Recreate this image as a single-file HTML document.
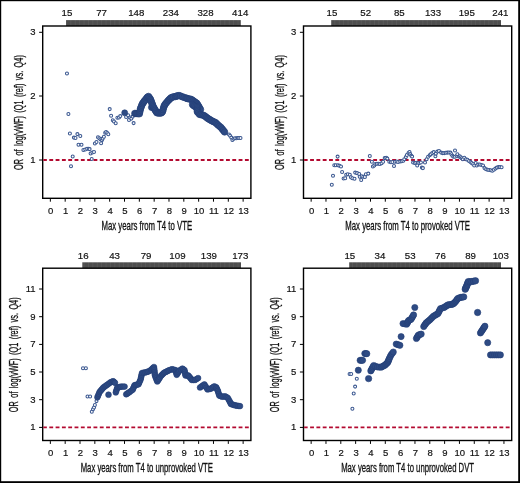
<!DOCTYPE html>
<html><head><meta charset="utf-8"><title>OR of log(vWF) plots</title>
<style>
html,body{margin:0;padding:0;background:#fff;}
body{width:520px;height:483px;overflow:hidden;}
svg{display:block;filter:blur(0.3px);}
.n{font-family:"Liberation Sans",sans-serif;font-size:9.5px;fill:#111;stroke:#111;stroke-width:0.18px;}
.b{font-size:9.7px;}
.t{font-family:"Liberation Sans",sans-serif;font-size:11.9px;fill:#111;stroke:#111;stroke-width:0.3px;}
</style></head><body>
<svg width="520" height="483" viewBox="0 0 520 483">
<defs><pattern id="bar" patternUnits="userSpaceOnUse" width="4.4" height="6"><rect width="4.4" height="6" fill="#4e4e4e"/><rect x="0" width="0.7" height="6" fill="#5c5c5c"/></pattern></defs>
<rect width="520" height="483" fill="#fff"/>
<rect x="66" y="20.1" width="174.8" height="5.9" fill="url(#bar)"/>
<text x="67" y="16.3" class="n b" text-anchor="middle">15</text>
<text x="101.64" y="16.3" class="n b" text-anchor="middle">77</text>
<text x="136.28" y="16.3" class="n b" text-anchor="middle">148</text>
<text x="170.92" y="16.3" class="n b" text-anchor="middle">234</text>
<text x="205.56" y="16.3" class="n b" text-anchor="middle">328</text>
<text x="240.2" y="16.3" class="n b" text-anchor="middle">414</text>
<rect x="42.7" y="26" width="208.2" height="172.3" fill="none" stroke="#000" stroke-width="1.4"/>
<line x1="50.35" y1="198.9" x2="50.35" y2="201.7" stroke="#000" stroke-width="1"/>
<text x="50.75" y="213.7" class="n" text-anchor="middle">0</text>
<line x1="65.18" y1="198.9" x2="65.18" y2="201.7" stroke="#000" stroke-width="1"/>
<text x="65.58" y="213.7" class="n" text-anchor="middle">1</text>
<line x1="80.01" y1="198.9" x2="80.01" y2="201.7" stroke="#000" stroke-width="1"/>
<text x="80.41" y="213.7" class="n" text-anchor="middle">2</text>
<line x1="94.84" y1="198.9" x2="94.84" y2="201.7" stroke="#000" stroke-width="1"/>
<text x="95.24" y="213.7" class="n" text-anchor="middle">3</text>
<line x1="109.67" y1="198.9" x2="109.67" y2="201.7" stroke="#000" stroke-width="1"/>
<text x="110.07" y="213.7" class="n" text-anchor="middle">4</text>
<line x1="124.5" y1="198.9" x2="124.5" y2="201.7" stroke="#000" stroke-width="1"/>
<text x="124.9" y="213.7" class="n" text-anchor="middle">5</text>
<line x1="139.33" y1="198.9" x2="139.33" y2="201.7" stroke="#000" stroke-width="1"/>
<text x="139.73" y="213.7" class="n" text-anchor="middle">6</text>
<line x1="154.16" y1="198.9" x2="154.16" y2="201.7" stroke="#000" stroke-width="1"/>
<text x="154.56" y="213.7" class="n" text-anchor="middle">7</text>
<line x1="168.99" y1="198.9" x2="168.99" y2="201.7" stroke="#000" stroke-width="1"/>
<text x="169.39" y="213.7" class="n" text-anchor="middle">8</text>
<line x1="183.82" y1="198.9" x2="183.82" y2="201.7" stroke="#000" stroke-width="1"/>
<text x="184.22" y="213.7" class="n" text-anchor="middle">9</text>
<line x1="198.65" y1="198.9" x2="198.65" y2="201.7" stroke="#000" stroke-width="1"/>
<text x="199.05" y="213.7" class="n" text-anchor="middle">10</text>
<line x1="213.48" y1="198.9" x2="213.48" y2="201.7" stroke="#000" stroke-width="1"/>
<text x="213.88" y="213.7" class="n" text-anchor="middle">11</text>
<line x1="228.31" y1="198.9" x2="228.31" y2="201.7" stroke="#000" stroke-width="1"/>
<text x="228.71" y="213.7" class="n" text-anchor="middle">12</text>
<line x1="243.14" y1="198.9" x2="243.14" y2="201.7" stroke="#000" stroke-width="1"/>
<text x="243.54" y="213.7" class="n" text-anchor="middle">13</text>
<line x1="39.1" y1="160" x2="42.7" y2="160" stroke="#000" stroke-width="1"/>
<text x="35.6" y="162.8" class="n" text-anchor="end">1</text>
<line x1="39.1" y1="96" x2="42.7" y2="96" stroke="#000" stroke-width="1"/>
<text x="35.6" y="98.8" class="n" text-anchor="end">2</text>
<line x1="39.1" y1="32.3" x2="42.7" y2="32.3" stroke="#000" stroke-width="1"/>
<text x="35.6" y="35.1" class="n" text-anchor="end">3</text>
<line x1="43.3" y1="160" x2="250.3" y2="160" stroke="#b30a30" stroke-width="1.8" stroke-dasharray="3.85 2.46" stroke-dashoffset="0.3"/>
<text x="146.8" y="229.6" class="t" text-anchor="middle" textLength="90.6" lengthAdjust="spacingAndGlyphs">Max years from T4 to VTE</text>
<text transform="translate(23.4,112.55) rotate(-90)" x="0" y="0" class="t" word-spacing="2.2" text-anchor="middle" textLength="114.8" lengthAdjust="spacingAndGlyphs">OR of log(vWF) (Q1 (ref) vs. Q4)</text>
<rect x="331.2" y="20.1" width="169.8" height="5.9" fill="url(#bar)"/>
<text x="332" y="16.3" class="n b" text-anchor="middle">15</text>
<text x="365.68" y="16.3" class="n b" text-anchor="middle">52</text>
<text x="399.36" y="16.3" class="n b" text-anchor="middle">85</text>
<text x="433.04" y="16.3" class="n b" text-anchor="middle">133</text>
<text x="466.72" y="16.3" class="n b" text-anchor="middle">195</text>
<text x="500.4" y="16.3" class="n b" text-anchor="middle">241</text>
<rect x="303.5" y="26" width="208.2" height="172.3" fill="none" stroke="#000" stroke-width="1.4"/>
<line x1="311.15" y1="198.9" x2="311.15" y2="201.7" stroke="#000" stroke-width="1"/>
<text x="311.55" y="213.7" class="n" text-anchor="middle">0</text>
<line x1="325.98" y1="198.9" x2="325.98" y2="201.7" stroke="#000" stroke-width="1"/>
<text x="326.38" y="213.7" class="n" text-anchor="middle">1</text>
<line x1="340.81" y1="198.9" x2="340.81" y2="201.7" stroke="#000" stroke-width="1"/>
<text x="341.21" y="213.7" class="n" text-anchor="middle">2</text>
<line x1="355.64" y1="198.9" x2="355.64" y2="201.7" stroke="#000" stroke-width="1"/>
<text x="356.04" y="213.7" class="n" text-anchor="middle">3</text>
<line x1="370.47" y1="198.9" x2="370.47" y2="201.7" stroke="#000" stroke-width="1"/>
<text x="370.87" y="213.7" class="n" text-anchor="middle">4</text>
<line x1="385.3" y1="198.9" x2="385.3" y2="201.7" stroke="#000" stroke-width="1"/>
<text x="385.7" y="213.7" class="n" text-anchor="middle">5</text>
<line x1="400.13" y1="198.9" x2="400.13" y2="201.7" stroke="#000" stroke-width="1"/>
<text x="400.53" y="213.7" class="n" text-anchor="middle">6</text>
<line x1="414.96" y1="198.9" x2="414.96" y2="201.7" stroke="#000" stroke-width="1"/>
<text x="415.36" y="213.7" class="n" text-anchor="middle">7</text>
<line x1="429.79" y1="198.9" x2="429.79" y2="201.7" stroke="#000" stroke-width="1"/>
<text x="430.19" y="213.7" class="n" text-anchor="middle">8</text>
<line x1="444.62" y1="198.9" x2="444.62" y2="201.7" stroke="#000" stroke-width="1"/>
<text x="445.02" y="213.7" class="n" text-anchor="middle">9</text>
<line x1="459.45" y1="198.9" x2="459.45" y2="201.7" stroke="#000" stroke-width="1"/>
<text x="459.85" y="213.7" class="n" text-anchor="middle">10</text>
<line x1="474.28" y1="198.9" x2="474.28" y2="201.7" stroke="#000" stroke-width="1"/>
<text x="474.68" y="213.7" class="n" text-anchor="middle">11</text>
<line x1="489.11" y1="198.9" x2="489.11" y2="201.7" stroke="#000" stroke-width="1"/>
<text x="489.51" y="213.7" class="n" text-anchor="middle">12</text>
<line x1="503.94" y1="198.9" x2="503.94" y2="201.7" stroke="#000" stroke-width="1"/>
<text x="504.34" y="213.7" class="n" text-anchor="middle">13</text>
<line x1="299.9" y1="160" x2="303.5" y2="160" stroke="#000" stroke-width="1"/>
<text x="296.4" y="162.8" class="n" text-anchor="end">1</text>
<line x1="299.9" y1="96" x2="303.5" y2="96" stroke="#000" stroke-width="1"/>
<text x="296.4" y="98.8" class="n" text-anchor="end">2</text>
<line x1="299.9" y1="32.3" x2="303.5" y2="32.3" stroke="#000" stroke-width="1"/>
<text x="296.4" y="35.1" class="n" text-anchor="end">3</text>
<line x1="304.1" y1="160" x2="511.1" y2="160" stroke="#b30a30" stroke-width="1.8" stroke-dasharray="3.85 2.46" stroke-dashoffset="0.3"/>
<text x="407.6" y="229.6" class="t" text-anchor="middle" textLength="124.6" lengthAdjust="spacingAndGlyphs">Max years from T4 to provoked VTE</text>
<text transform="translate(284.2,112.55) rotate(-90)" x="0" y="0" class="t" word-spacing="2.2" text-anchor="middle" textLength="114.8" lengthAdjust="spacingAndGlyphs">OR of log(vWF) (Q1 (ref) vs. Q4)</text>
<rect x="82.3" y="262.3" width="158.7" height="5.9" fill="url(#bar)"/>
<text x="83.2" y="258.5" class="n b" text-anchor="middle">16</text>
<text x="114.62" y="258.5" class="n b" text-anchor="middle">43</text>
<text x="146.04" y="258.5" class="n b" text-anchor="middle">79</text>
<text x="177.46" y="258.5" class="n b" text-anchor="middle">109</text>
<text x="208.88" y="258.5" class="n b" text-anchor="middle">139</text>
<text x="240.3" y="258.5" class="n b" text-anchor="middle">173</text>
<rect x="42.7" y="268.2" width="208.2" height="172.3" fill="none" stroke="#000" stroke-width="1.4"/>
<line x1="50.35" y1="441.1" x2="50.35" y2="443.9" stroke="#000" stroke-width="1"/>
<text x="50.75" y="455.9" class="n" text-anchor="middle">0</text>
<line x1="65.18" y1="441.1" x2="65.18" y2="443.9" stroke="#000" stroke-width="1"/>
<text x="65.58" y="455.9" class="n" text-anchor="middle">1</text>
<line x1="80.01" y1="441.1" x2="80.01" y2="443.9" stroke="#000" stroke-width="1"/>
<text x="80.41" y="455.9" class="n" text-anchor="middle">2</text>
<line x1="94.84" y1="441.1" x2="94.84" y2="443.9" stroke="#000" stroke-width="1"/>
<text x="95.24" y="455.9" class="n" text-anchor="middle">3</text>
<line x1="109.67" y1="441.1" x2="109.67" y2="443.9" stroke="#000" stroke-width="1"/>
<text x="110.07" y="455.9" class="n" text-anchor="middle">4</text>
<line x1="124.5" y1="441.1" x2="124.5" y2="443.9" stroke="#000" stroke-width="1"/>
<text x="124.9" y="455.9" class="n" text-anchor="middle">5</text>
<line x1="139.33" y1="441.1" x2="139.33" y2="443.9" stroke="#000" stroke-width="1"/>
<text x="139.73" y="455.9" class="n" text-anchor="middle">6</text>
<line x1="154.16" y1="441.1" x2="154.16" y2="443.9" stroke="#000" stroke-width="1"/>
<text x="154.56" y="455.9" class="n" text-anchor="middle">7</text>
<line x1="168.99" y1="441.1" x2="168.99" y2="443.9" stroke="#000" stroke-width="1"/>
<text x="169.39" y="455.9" class="n" text-anchor="middle">8</text>
<line x1="183.82" y1="441.1" x2="183.82" y2="443.9" stroke="#000" stroke-width="1"/>
<text x="184.22" y="455.9" class="n" text-anchor="middle">9</text>
<line x1="198.65" y1="441.1" x2="198.65" y2="443.9" stroke="#000" stroke-width="1"/>
<text x="199.05" y="455.9" class="n" text-anchor="middle">10</text>
<line x1="213.48" y1="441.1" x2="213.48" y2="443.9" stroke="#000" stroke-width="1"/>
<text x="213.88" y="455.9" class="n" text-anchor="middle">11</text>
<line x1="228.31" y1="441.1" x2="228.31" y2="443.9" stroke="#000" stroke-width="1"/>
<text x="228.71" y="455.9" class="n" text-anchor="middle">12</text>
<line x1="243.14" y1="441.1" x2="243.14" y2="443.9" stroke="#000" stroke-width="1"/>
<text x="243.54" y="455.9" class="n" text-anchor="middle">13</text>
<line x1="39.1" y1="427.4" x2="42.7" y2="427.4" stroke="#000" stroke-width="1"/>
<text x="35.6" y="430.2" class="n" text-anchor="end">1</text>
<line x1="39.1" y1="399.7" x2="42.7" y2="399.7" stroke="#000" stroke-width="1"/>
<text x="35.6" y="402.5" class="n" text-anchor="end">3</text>
<line x1="39.1" y1="372" x2="42.7" y2="372" stroke="#000" stroke-width="1"/>
<text x="35.6" y="374.8" class="n" text-anchor="end">5</text>
<line x1="39.1" y1="344.4" x2="42.7" y2="344.4" stroke="#000" stroke-width="1"/>
<text x="35.6" y="347.2" class="n" text-anchor="end">7</text>
<line x1="39.1" y1="316.7" x2="42.7" y2="316.7" stroke="#000" stroke-width="1"/>
<text x="35.6" y="319.5" class="n" text-anchor="end">9</text>
<line x1="39.1" y1="289" x2="42.7" y2="289" stroke="#000" stroke-width="1"/>
<text x="35.6" y="291.8" class="n" text-anchor="end">11</text>
<line x1="43.3" y1="427.4" x2="250.3" y2="427.4" stroke="#b30a30" stroke-width="1.8" stroke-dasharray="3.85 2.46" stroke-dashoffset="0.3"/>
<text x="146.8" y="471.8" class="t" text-anchor="middle" textLength="132.2" lengthAdjust="spacingAndGlyphs">Max years from T4 to unprovoked VTE</text>
<text transform="translate(18.3,354.75) rotate(-90)" x="0" y="0" class="t" word-spacing="2.2" text-anchor="middle" textLength="114.8" lengthAdjust="spacingAndGlyphs">OR of log(vWF) (Q1 (ref) vs. Q4)</text>
<rect x="349.2" y="262.3" width="151.8" height="5.9" fill="url(#bar)"/>
<text x="349.8" y="258.5" class="n b" text-anchor="middle">15</text>
<text x="380" y="258.5" class="n b" text-anchor="middle">34</text>
<text x="410.2" y="258.5" class="n b" text-anchor="middle">53</text>
<text x="440.4" y="258.5" class="n b" text-anchor="middle">76</text>
<text x="470.6" y="258.5" class="n b" text-anchor="middle">89</text>
<text x="500.8" y="258.5" class="n b" text-anchor="middle">103</text>
<rect x="303.5" y="268.2" width="208.2" height="172.3" fill="none" stroke="#000" stroke-width="1.4"/>
<line x1="311.15" y1="441.1" x2="311.15" y2="443.9" stroke="#000" stroke-width="1"/>
<text x="311.55" y="455.9" class="n" text-anchor="middle">0</text>
<line x1="325.98" y1="441.1" x2="325.98" y2="443.9" stroke="#000" stroke-width="1"/>
<text x="326.38" y="455.9" class="n" text-anchor="middle">1</text>
<line x1="340.81" y1="441.1" x2="340.81" y2="443.9" stroke="#000" stroke-width="1"/>
<text x="341.21" y="455.9" class="n" text-anchor="middle">2</text>
<line x1="355.64" y1="441.1" x2="355.64" y2="443.9" stroke="#000" stroke-width="1"/>
<text x="356.04" y="455.9" class="n" text-anchor="middle">3</text>
<line x1="370.47" y1="441.1" x2="370.47" y2="443.9" stroke="#000" stroke-width="1"/>
<text x="370.87" y="455.9" class="n" text-anchor="middle">4</text>
<line x1="385.3" y1="441.1" x2="385.3" y2="443.9" stroke="#000" stroke-width="1"/>
<text x="385.7" y="455.9" class="n" text-anchor="middle">5</text>
<line x1="400.13" y1="441.1" x2="400.13" y2="443.9" stroke="#000" stroke-width="1"/>
<text x="400.53" y="455.9" class="n" text-anchor="middle">6</text>
<line x1="414.96" y1="441.1" x2="414.96" y2="443.9" stroke="#000" stroke-width="1"/>
<text x="415.36" y="455.9" class="n" text-anchor="middle">7</text>
<line x1="429.79" y1="441.1" x2="429.79" y2="443.9" stroke="#000" stroke-width="1"/>
<text x="430.19" y="455.9" class="n" text-anchor="middle">8</text>
<line x1="444.62" y1="441.1" x2="444.62" y2="443.9" stroke="#000" stroke-width="1"/>
<text x="445.02" y="455.9" class="n" text-anchor="middle">9</text>
<line x1="459.45" y1="441.1" x2="459.45" y2="443.9" stroke="#000" stroke-width="1"/>
<text x="459.85" y="455.9" class="n" text-anchor="middle">10</text>
<line x1="474.28" y1="441.1" x2="474.28" y2="443.9" stroke="#000" stroke-width="1"/>
<text x="474.68" y="455.9" class="n" text-anchor="middle">11</text>
<line x1="489.11" y1="441.1" x2="489.11" y2="443.9" stroke="#000" stroke-width="1"/>
<text x="489.51" y="455.9" class="n" text-anchor="middle">12</text>
<line x1="503.94" y1="441.1" x2="503.94" y2="443.9" stroke="#000" stroke-width="1"/>
<text x="504.34" y="455.9" class="n" text-anchor="middle">13</text>
<line x1="299.9" y1="427.4" x2="303.5" y2="427.4" stroke="#000" stroke-width="1"/>
<text x="296.4" y="430.2" class="n" text-anchor="end">1</text>
<line x1="299.9" y1="399.7" x2="303.5" y2="399.7" stroke="#000" stroke-width="1"/>
<text x="296.4" y="402.5" class="n" text-anchor="end">3</text>
<line x1="299.9" y1="372" x2="303.5" y2="372" stroke="#000" stroke-width="1"/>
<text x="296.4" y="374.8" class="n" text-anchor="end">5</text>
<line x1="299.9" y1="344.4" x2="303.5" y2="344.4" stroke="#000" stroke-width="1"/>
<text x="296.4" y="347.2" class="n" text-anchor="end">7</text>
<line x1="299.9" y1="316.7" x2="303.5" y2="316.7" stroke="#000" stroke-width="1"/>
<text x="296.4" y="319.5" class="n" text-anchor="end">9</text>
<line x1="299.9" y1="289" x2="303.5" y2="289" stroke="#000" stroke-width="1"/>
<text x="296.4" y="291.8" class="n" text-anchor="end">11</text>
<line x1="304.1" y1="427.4" x2="511.1" y2="427.4" stroke="#b30a30" stroke-width="1.8" stroke-dasharray="3.85 2.46" stroke-dashoffset="0.3"/>
<text x="407.6" y="471.8" class="t" text-anchor="middle" textLength="132.9" lengthAdjust="spacingAndGlyphs">Max years from T4 to unprovoked DVT</text>
<text transform="translate(279.1,354.75) rotate(-90)" x="0" y="0" class="t" word-spacing="2.2" text-anchor="middle" textLength="114.8" lengthAdjust="spacingAndGlyphs">OR of log(vWF) (Q1 (ref) vs. Q4)</text>
<circle cx="66.97" cy="73.4" r="1.5" fill="#fff" stroke="#3a5790" stroke-width="1.05"/>
<circle cx="68.4" cy="114" r="1.5" fill="#fff" stroke="#3a5790" stroke-width="1.05"/>
<circle cx="69.9" cy="133.5" r="1.5" fill="#fff" stroke="#3a5790" stroke-width="1.05"/>
<circle cx="71" cy="166.3" r="1.5" fill="#fff" stroke="#3a5790" stroke-width="1.05"/>
<circle cx="72.7" cy="156.5" r="1.5" fill="#fff" stroke="#3a5790" stroke-width="1.05"/>
<circle cx="73.9" cy="137.6" r="1.5" fill="#fff" stroke="#3a5790" stroke-width="1.05"/>
<circle cx="75.5" cy="137.9" r="1.5" fill="#fff" stroke="#3a5790" stroke-width="1.05"/>
<circle cx="77.4" cy="134.1" r="1.5" fill="#fff" stroke="#3a5790" stroke-width="1.05"/>
<circle cx="78.5" cy="144.8" r="1.5" fill="#fff" stroke="#3a5790" stroke-width="1.05"/>
<circle cx="80.3" cy="136" r="1.5" fill="#fff" stroke="#3a5790" stroke-width="1.05"/>
<circle cx="81.5" cy="144.7" r="1.5" fill="#fff" stroke="#3a5790" stroke-width="1.05"/>
<circle cx="83.4" cy="150" r="1.5" fill="#fff" stroke="#3a5790" stroke-width="1.05"/>
<circle cx="85.3" cy="149.4" r="1.5" fill="#fff" stroke="#3a5790" stroke-width="1.05"/>
<circle cx="87.1" cy="148.8" r="1.5" fill="#fff" stroke="#3a5790" stroke-width="1.05"/>
<circle cx="88.7" cy="148.8" r="1.5" fill="#fff" stroke="#3a5790" stroke-width="1.05"/>
<circle cx="89.6" cy="149.1" r="1.5" fill="#fff" stroke="#3a5790" stroke-width="1.05"/>
<circle cx="90.6" cy="153.5" r="1.5" fill="#fff" stroke="#3a5790" stroke-width="1.05"/>
<circle cx="91.7" cy="159" r="1.5" fill="#fff" stroke="#3a5790" stroke-width="1.05"/>
<circle cx="92.4" cy="152.5" r="1.5" fill="#fff" stroke="#3a5790" stroke-width="1.05"/>
<circle cx="94" cy="151.9" r="1.5" fill="#fff" stroke="#3a5790" stroke-width="1.05"/>
<circle cx="94.9" cy="143.5" r="1.5" fill="#fff" stroke="#3a5790" stroke-width="1.05"/>
<circle cx="96.5" cy="142" r="1.5" fill="#fff" stroke="#3a5790" stroke-width="1.05"/>
<circle cx="98" cy="137.3" r="1.5" fill="#fff" stroke="#3a5790" stroke-width="1.05"/>
<circle cx="99.3" cy="138.2" r="1.5" fill="#fff" stroke="#3a5790" stroke-width="1.05"/>
<circle cx="100.5" cy="139.2" r="1.5" fill="#fff" stroke="#3a5790" stroke-width="1.05"/>
<circle cx="101.1" cy="143.2" r="1.5" fill="#fff" stroke="#3a5790" stroke-width="1.05"/>
<circle cx="102" cy="140.1" r="1.5" fill="#fff" stroke="#3a5790" stroke-width="1.05"/>
<circle cx="102.7" cy="138.6" r="1.5" fill="#fff" stroke="#3a5790" stroke-width="1.05"/>
<circle cx="103.9" cy="136.7" r="1.5" fill="#fff" stroke="#3a5790" stroke-width="1.05"/>
<circle cx="105.2" cy="132.7" r="1.5" fill="#fff" stroke="#3a5790" stroke-width="1.05"/>
<circle cx="106.1" cy="132" r="1.5" fill="#fff" stroke="#3a5790" stroke-width="1.05"/>
<circle cx="107.3" cy="133" r="1.5" fill="#fff" stroke="#3a5790" stroke-width="1.05"/>
<circle cx="108.3" cy="134.2" r="1.5" fill="#fff" stroke="#3a5790" stroke-width="1.05"/>
<circle cx="109.7" cy="109.1" r="1.5" fill="#fff" stroke="#3a5790" stroke-width="1.05"/>
<circle cx="111.1" cy="115.7" r="1.5" fill="#fff" stroke="#3a5790" stroke-width="1.05"/>
<circle cx="112.8" cy="120.3" r="1.5" fill="#fff" stroke="#3a5790" stroke-width="1.05"/>
<circle cx="114" cy="121.5" r="1.5" fill="#fff" stroke="#3a5790" stroke-width="1.05"/>
<circle cx="115.7" cy="123.2" r="1.5" fill="#fff" stroke="#3a5790" stroke-width="1.05"/>
<circle cx="117.4" cy="117.8" r="1.5" fill="#fff" stroke="#3a5790" stroke-width="1.05"/>
<circle cx="119" cy="117.4" r="1.5" fill="#fff" stroke="#3a5790" stroke-width="1.05"/>
<circle cx="120.3" cy="116.1" r="1.5" fill="#fff" stroke="#3a5790" stroke-width="1.05"/>
<circle cx="126.1" cy="117" r="1.5" fill="#fff" stroke="#3a5790" stroke-width="1.05"/>
<circle cx="128.1" cy="115.3" r="1.5" fill="#fff" stroke="#3a5790" stroke-width="1.05"/>
<circle cx="129" cy="119.9" r="1.5" fill="#fff" stroke="#3a5790" stroke-width="1.05"/>
<circle cx="130.2" cy="117.4" r="1.5" fill="#fff" stroke="#3a5790" stroke-width="1.05"/>
<circle cx="131.4" cy="118.6" r="1.5" fill="#fff" stroke="#3a5790" stroke-width="1.05"/>
<circle cx="132.7" cy="116.6" r="1.5" fill="#fff" stroke="#3a5790" stroke-width="1.05"/>
<circle cx="133.6" cy="123.1" r="1.5" fill="#fff" stroke="#3a5790" stroke-width="1.05"/>
<circle cx="229" cy="134.4" r="1.5" fill="#fff" stroke="#3a5790" stroke-width="1.05"/>
<circle cx="230.1" cy="135.8" r="1.5" fill="#fff" stroke="#3a5790" stroke-width="1.05"/>
<circle cx="231.3" cy="137.6" r="1.5" fill="#fff" stroke="#3a5790" stroke-width="1.05"/>
<circle cx="232.4" cy="139.9" r="1.5" fill="#fff" stroke="#3a5790" stroke-width="1.05"/>
<circle cx="233.6" cy="138.7" r="1.5" fill="#fff" stroke="#3a5790" stroke-width="1.05"/>
<circle cx="235" cy="138.2" r="1.5" fill="#fff" stroke="#3a5790" stroke-width="1.05"/>
<circle cx="236.5" cy="138.2" r="1.5" fill="#fff" stroke="#3a5790" stroke-width="1.05"/>
<circle cx="237.9" cy="138" r="1.5" fill="#fff" stroke="#3a5790" stroke-width="1.05"/>
<circle cx="239.1" cy="138" r="1.5" fill="#fff" stroke="#3a5790" stroke-width="1.05"/>
<circle cx="240.5" cy="138" r="1.5" fill="#fff" stroke="#3a5790" stroke-width="1.05"/>
<circle cx="124.7" cy="112.8" r="3" fill="#2e4b84" stroke="#233e76" stroke-width="0.6"/>
<circle cx="151.5" cy="107.4" r="3.1" fill="#2e4b84" stroke="#233e76" stroke-width="0.6"/>
<circle cx="134.8" cy="113.4" r="3.25" fill="#2e4b84" stroke="#233e76" stroke-width="0.6"/>
<circle cx="135.9" cy="113.5" r="3.25" fill="#2e4b84" stroke="#233e76" stroke-width="0.6"/>
<circle cx="137" cy="113.6" r="3.25" fill="#2e4b84" stroke="#233e76" stroke-width="0.6"/>
<circle cx="138.2" cy="113.7" r="3.25" fill="#2e4b84" stroke="#233e76" stroke-width="0.6"/>
<circle cx="139.4" cy="113.8" r="3.25" fill="#2e4b84" stroke="#233e76" stroke-width="0.6"/>
<circle cx="139.77" cy="112.03" r="3.25" fill="#2e4b84" stroke="#233e76" stroke-width="0.6"/>
<circle cx="140.13" cy="110.27" r="3.25" fill="#2e4b84" stroke="#233e76" stroke-width="0.6"/>
<circle cx="140.5" cy="108.5" r="3.25" fill="#2e4b84" stroke="#233e76" stroke-width="0.6"/>
<circle cx="141.13" cy="106.93" r="3.25" fill="#2e4b84" stroke="#233e76" stroke-width="0.6"/>
<circle cx="141.77" cy="105.37" r="3.25" fill="#2e4b84" stroke="#233e76" stroke-width="0.6"/>
<circle cx="142.4" cy="103.8" r="3.25" fill="#2e4b84" stroke="#233e76" stroke-width="0.6"/>
<circle cx="143.2" cy="102.7" r="3.25" fill="#2e4b84" stroke="#233e76" stroke-width="0.6"/>
<circle cx="144" cy="101.6" r="3.25" fill="#2e4b84" stroke="#233e76" stroke-width="0.6"/>
<circle cx="144.8" cy="100.5" r="3.25" fill="#2e4b84" stroke="#233e76" stroke-width="0.6"/>
<circle cx="145.85" cy="99.15" r="3.25" fill="#2e4b84" stroke="#233e76" stroke-width="0.6"/>
<circle cx="146.9" cy="97.8" r="3.25" fill="#2e4b84" stroke="#233e76" stroke-width="0.6"/>
<circle cx="147.7" cy="97.1" r="3.25" fill="#2e4b84" stroke="#233e76" stroke-width="0.6"/>
<circle cx="148.5" cy="96.4" r="3.25" fill="#2e4b84" stroke="#233e76" stroke-width="0.6"/>
<circle cx="149.5" cy="97.85" r="3.25" fill="#2e4b84" stroke="#233e76" stroke-width="0.6"/>
<circle cx="150.5" cy="99.3" r="3.25" fill="#2e4b84" stroke="#233e76" stroke-width="0.6"/>
<circle cx="151.07" cy="100.87" r="3.25" fill="#2e4b84" stroke="#233e76" stroke-width="0.6"/>
<circle cx="151.63" cy="102.43" r="3.25" fill="#2e4b84" stroke="#233e76" stroke-width="0.6"/>
<circle cx="152.2" cy="104" r="3.25" fill="#2e4b84" stroke="#233e76" stroke-width="0.6"/>
<circle cx="152.7" cy="105.35" r="3.25" fill="#2e4b84" stroke="#233e76" stroke-width="0.6"/>
<circle cx="153.2" cy="106.7" r="3.25" fill="#2e4b84" stroke="#233e76" stroke-width="0.6"/>
<circle cx="153.9" cy="107.9" r="3.25" fill="#2e4b84" stroke="#233e76" stroke-width="0.6"/>
<circle cx="154.6" cy="109.1" r="3.25" fill="#2e4b84" stroke="#233e76" stroke-width="0.6"/>
<circle cx="155.3" cy="110.3" r="3.25" fill="#2e4b84" stroke="#233e76" stroke-width="0.6"/>
<circle cx="156.1" cy="111.55" r="3.25" fill="#2e4b84" stroke="#233e76" stroke-width="0.6"/>
<circle cx="156.9" cy="112.8" r="3.25" fill="#2e4b84" stroke="#233e76" stroke-width="0.6"/>
<circle cx="157.95" cy="112.95" r="3.25" fill="#2e4b84" stroke="#233e76" stroke-width="0.6"/>
<circle cx="159" cy="113.1" r="3.25" fill="#2e4b84" stroke="#233e76" stroke-width="0.6"/>
<circle cx="160.1" cy="113.05" r="3.25" fill="#2e4b84" stroke="#233e76" stroke-width="0.6"/>
<circle cx="161.2" cy="113" r="3.25" fill="#2e4b84" stroke="#233e76" stroke-width="0.6"/>
<circle cx="161.9" cy="112.25" r="3.25" fill="#2e4b84" stroke="#233e76" stroke-width="0.6"/>
<circle cx="162.6" cy="111.5" r="3.25" fill="#2e4b84" stroke="#233e76" stroke-width="0.6"/>
<circle cx="163.07" cy="109.73" r="3.25" fill="#2e4b84" stroke="#233e76" stroke-width="0.6"/>
<circle cx="163.53" cy="107.97" r="3.25" fill="#2e4b84" stroke="#233e76" stroke-width="0.6"/>
<circle cx="164" cy="106.2" r="3.25" fill="#2e4b84" stroke="#233e76" stroke-width="0.6"/>
<circle cx="164.75" cy="105" r="3.25" fill="#2e4b84" stroke="#233e76" stroke-width="0.6"/>
<circle cx="165.5" cy="103.8" r="3.25" fill="#2e4b84" stroke="#233e76" stroke-width="0.6"/>
<circle cx="166.75" cy="102.3" r="3.25" fill="#2e4b84" stroke="#233e76" stroke-width="0.6"/>
<circle cx="168" cy="100.8" r="3.25" fill="#2e4b84" stroke="#233e76" stroke-width="0.6"/>
<circle cx="169" cy="99.8" r="3.25" fill="#2e4b84" stroke="#233e76" stroke-width="0.6"/>
<circle cx="170" cy="98.8" r="3.25" fill="#2e4b84" stroke="#233e76" stroke-width="0.6"/>
<circle cx="171" cy="97.8" r="3.25" fill="#2e4b84" stroke="#233e76" stroke-width="0.6"/>
<circle cx="172.25" cy="97.3" r="3.25" fill="#2e4b84" stroke="#233e76" stroke-width="0.6"/>
<circle cx="173.5" cy="96.8" r="3.25" fill="#2e4b84" stroke="#233e76" stroke-width="0.6"/>
<circle cx="175.4" cy="96.6" r="3.25" fill="#2e4b84" stroke="#233e76" stroke-width="0.6"/>
<circle cx="176.45" cy="96.2" r="3.25" fill="#2e4b84" stroke="#233e76" stroke-width="0.6"/>
<circle cx="177.5" cy="95.8" r="3.25" fill="#2e4b84" stroke="#233e76" stroke-width="0.6"/>
<circle cx="179" cy="95.5" r="3.25" fill="#2e4b84" stroke="#233e76" stroke-width="0.6"/>
<circle cx="180.5" cy="96" r="3.25" fill="#2e4b84" stroke="#233e76" stroke-width="0.6"/>
<circle cx="182.3" cy="96.8" r="3.25" fill="#2e4b84" stroke="#233e76" stroke-width="0.6"/>
<circle cx="184.15" cy="97.4" r="3.25" fill="#2e4b84" stroke="#233e76" stroke-width="0.6"/>
<circle cx="186" cy="98" r="3.25" fill="#2e4b84" stroke="#233e76" stroke-width="0.6"/>
<circle cx="187" cy="98.4" r="3.25" fill="#2e4b84" stroke="#233e76" stroke-width="0.6"/>
<circle cx="188" cy="98.8" r="3.25" fill="#2e4b84" stroke="#233e76" stroke-width="0.6"/>
<circle cx="189.45" cy="99" r="3.25" fill="#2e4b84" stroke="#233e76" stroke-width="0.6"/>
<circle cx="190.9" cy="99.2" r="3.25" fill="#2e4b84" stroke="#233e76" stroke-width="0.6"/>
<circle cx="192.1" cy="100.03" r="3.25" fill="#2e4b84" stroke="#233e76" stroke-width="0.6"/>
<circle cx="193.3" cy="100.87" r="3.25" fill="#2e4b84" stroke="#233e76" stroke-width="0.6"/>
<circle cx="194.5" cy="101.7" r="3.25" fill="#2e4b84" stroke="#233e76" stroke-width="0.6"/>
<circle cx="195.6" cy="102.45" r="3.25" fill="#2e4b84" stroke="#233e76" stroke-width="0.6"/>
<circle cx="196.7" cy="103.2" r="3.25" fill="#2e4b84" stroke="#233e76" stroke-width="0.6"/>
<circle cx="197.43" cy="104.4" r="3.25" fill="#2e4b84" stroke="#233e76" stroke-width="0.6"/>
<circle cx="198.17" cy="105.6" r="3.25" fill="#2e4b84" stroke="#233e76" stroke-width="0.6"/>
<circle cx="198.9" cy="106.8" r="3.25" fill="#2e4b84" stroke="#233e76" stroke-width="0.6"/>
<circle cx="199.7" cy="108.15" r="3.25" fill="#2e4b84" stroke="#233e76" stroke-width="0.6"/>
<circle cx="200.5" cy="109.5" r="3.25" fill="#2e4b84" stroke="#233e76" stroke-width="0.6"/>
<circle cx="192.5" cy="104.6" r="3.25" fill="#2e4b84" stroke="#233e76" stroke-width="0.6"/>
<circle cx="193.5" cy="105.4" r="3.25" fill="#2e4b84" stroke="#233e76" stroke-width="0.6"/>
<circle cx="194.5" cy="106.2" r="3.25" fill="#2e4b84" stroke="#233e76" stroke-width="0.6"/>
<circle cx="195.85" cy="106.9" r="3.25" fill="#2e4b84" stroke="#233e76" stroke-width="0.6"/>
<circle cx="197.2" cy="107.6" r="3.25" fill="#2e4b84" stroke="#233e76" stroke-width="0.6"/>
<circle cx="197.23" cy="109" r="3.25" fill="#2e4b84" stroke="#233e76" stroke-width="0.6"/>
<circle cx="197.27" cy="110.4" r="3.25" fill="#2e4b84" stroke="#233e76" stroke-width="0.6"/>
<circle cx="197.3" cy="111.8" r="3.25" fill="#2e4b84" stroke="#233e76" stroke-width="0.6"/>
<circle cx="198.45" cy="113.1" r="3.25" fill="#2e4b84" stroke="#233e76" stroke-width="0.6"/>
<circle cx="199.6" cy="114.4" r="3.25" fill="#2e4b84" stroke="#233e76" stroke-width="0.6"/>
<circle cx="201.03" cy="114.73" r="3.25" fill="#2e4b84" stroke="#233e76" stroke-width="0.6"/>
<circle cx="202.47" cy="115.07" r="3.25" fill="#2e4b84" stroke="#233e76" stroke-width="0.6"/>
<circle cx="203.9" cy="115.4" r="3.25" fill="#2e4b84" stroke="#233e76" stroke-width="0.6"/>
<circle cx="205.13" cy="116.37" r="3.25" fill="#2e4b84" stroke="#233e76" stroke-width="0.6"/>
<circle cx="206.37" cy="117.33" r="3.25" fill="#2e4b84" stroke="#233e76" stroke-width="0.6"/>
<circle cx="207.6" cy="118.3" r="3.25" fill="#2e4b84" stroke="#233e76" stroke-width="0.6"/>
<circle cx="208.8" cy="119.03" r="3.25" fill="#2e4b84" stroke="#233e76" stroke-width="0.6"/>
<circle cx="210" cy="119.77" r="3.25" fill="#2e4b84" stroke="#233e76" stroke-width="0.6"/>
<circle cx="211.2" cy="120.5" r="3.25" fill="#2e4b84" stroke="#233e76" stroke-width="0.6"/>
<circle cx="212.63" cy="121.2" r="3.25" fill="#2e4b84" stroke="#233e76" stroke-width="0.6"/>
<circle cx="214.07" cy="121.9" r="3.25" fill="#2e4b84" stroke="#233e76" stroke-width="0.6"/>
<circle cx="215.5" cy="122.6" r="3.25" fill="#2e4b84" stroke="#233e76" stroke-width="0.6"/>
<circle cx="216.75" cy="123.8" r="3.25" fill="#2e4b84" stroke="#233e76" stroke-width="0.6"/>
<circle cx="218" cy="125" r="3.25" fill="#2e4b84" stroke="#233e76" stroke-width="0.6"/>
<circle cx="219.5" cy="126.25" r="3.25" fill="#2e4b84" stroke="#233e76" stroke-width="0.6"/>
<circle cx="221" cy="127.5" r="3.25" fill="#2e4b84" stroke="#233e76" stroke-width="0.6"/>
<circle cx="222.2" cy="129" r="3.25" fill="#2e4b84" stroke="#233e76" stroke-width="0.6"/>
<circle cx="223.4" cy="130.5" r="3.25" fill="#2e4b84" stroke="#233e76" stroke-width="0.6"/>
<circle cx="224.6" cy="132" r="3.25" fill="#2e4b84" stroke="#233e76" stroke-width="0.6"/>
<circle cx="331.8" cy="184.7" r="1.5" fill="#fff" stroke="#3a5790" stroke-width="1.05"/>
<circle cx="333" cy="175.8" r="1.5" fill="#fff" stroke="#3a5790" stroke-width="1.05"/>
<circle cx="334.3" cy="165.3" r="1.5" fill="#fff" stroke="#3a5790" stroke-width="1.05"/>
<circle cx="335.9" cy="165.3" r="1.5" fill="#fff" stroke="#3a5790" stroke-width="1.05"/>
<circle cx="338" cy="165.3" r="1.5" fill="#fff" stroke="#3a5790" stroke-width="1.05"/>
<circle cx="339.4" cy="165.7" r="1.5" fill="#fff" stroke="#3a5790" stroke-width="1.05"/>
<circle cx="341" cy="166.4" r="1.5" fill="#fff" stroke="#3a5790" stroke-width="1.05"/>
<circle cx="337.6" cy="156.6" r="1.5" fill="#fff" stroke="#3a5790" stroke-width="1.05"/>
<circle cx="342.1" cy="171.9" r="1.5" fill="#fff" stroke="#3a5790" stroke-width="1.05"/>
<circle cx="343.6" cy="178.5" r="1.5" fill="#fff" stroke="#3a5790" stroke-width="1.05"/>
<circle cx="345.2" cy="178.3" r="1.5" fill="#fff" stroke="#3a5790" stroke-width="1.05"/>
<circle cx="346.2" cy="174.7" r="1.5" fill="#fff" stroke="#3a5790" stroke-width="1.05"/>
<circle cx="347.8" cy="174.2" r="1.5" fill="#fff" stroke="#3a5790" stroke-width="1.05"/>
<circle cx="349.8" cy="174.7" r="1.5" fill="#fff" stroke="#3a5790" stroke-width="1.05"/>
<circle cx="350.9" cy="177.3" r="1.5" fill="#fff" stroke="#3a5790" stroke-width="1.05"/>
<circle cx="352.4" cy="178.3" r="1.5" fill="#fff" stroke="#3a5790" stroke-width="1.05"/>
<circle cx="354.5" cy="178.8" r="1.5" fill="#fff" stroke="#3a5790" stroke-width="1.05"/>
<circle cx="355.2" cy="172.6" r="1.5" fill="#fff" stroke="#3a5790" stroke-width="1.05"/>
<circle cx="357.1" cy="173.1" r="1.5" fill="#fff" stroke="#3a5790" stroke-width="1.05"/>
<circle cx="359.2" cy="174" r="1.5" fill="#fff" stroke="#3a5790" stroke-width="1.05"/>
<circle cx="359.7" cy="176.7" r="1.5" fill="#fff" stroke="#3a5790" stroke-width="1.05"/>
<circle cx="361.7" cy="176.2" r="1.5" fill="#fff" stroke="#3a5790" stroke-width="1.05"/>
<circle cx="361.2" cy="179.9" r="1.5" fill="#fff" stroke="#3a5790" stroke-width="1.05"/>
<circle cx="363.3" cy="176.7" r="1.5" fill="#fff" stroke="#3a5790" stroke-width="1.05"/>
<circle cx="364.9" cy="177" r="1.5" fill="#fff" stroke="#3a5790" stroke-width="1.05"/>
<circle cx="365.9" cy="174.2" r="1.5" fill="#fff" stroke="#3a5790" stroke-width="1.05"/>
<circle cx="368.3" cy="173.6" r="1.5" fill="#fff" stroke="#3a5790" stroke-width="1.05"/>
<circle cx="369.8" cy="156" r="1.5" fill="#fff" stroke="#3a5790" stroke-width="1.05"/>
<circle cx="371.9" cy="161.7" r="1.5" fill="#fff" stroke="#3a5790" stroke-width="1.05"/>
<circle cx="372.9" cy="166.4" r="1.5" fill="#fff" stroke="#3a5790" stroke-width="1.05"/>
<circle cx="374.3" cy="165.4" r="1.5" fill="#fff" stroke="#3a5790" stroke-width="1.05"/>
<circle cx="375.4" cy="164" r="1.5" fill="#fff" stroke="#3a5790" stroke-width="1.05"/>
<circle cx="376.9" cy="163.8" r="1.5" fill="#fff" stroke="#3a5790" stroke-width="1.05"/>
<circle cx="378.5" cy="163.8" r="1.5" fill="#fff" stroke="#3a5790" stroke-width="1.05"/>
<circle cx="380" cy="164" r="1.5" fill="#fff" stroke="#3a5790" stroke-width="1.05"/>
<circle cx="381.6" cy="163.3" r="1.5" fill="#fff" stroke="#3a5790" stroke-width="1.05"/>
<circle cx="383.1" cy="161.7" r="1.5" fill="#fff" stroke="#3a5790" stroke-width="1.05"/>
<circle cx="384.7" cy="158.1" r="1.5" fill="#fff" stroke="#3a5790" stroke-width="1.05"/>
<circle cx="386.2" cy="157.8" r="1.5" fill="#fff" stroke="#3a5790" stroke-width="1.05"/>
<circle cx="387.3" cy="158.6" r="1.5" fill="#fff" stroke="#3a5790" stroke-width="1.05"/>
<circle cx="389.3" cy="161.7" r="1.5" fill="#fff" stroke="#3a5790" stroke-width="1.05"/>
<circle cx="390.9" cy="162.3" r="1.5" fill="#fff" stroke="#3a5790" stroke-width="1.05"/>
<circle cx="392.4" cy="161.9" r="1.5" fill="#fff" stroke="#3a5790" stroke-width="1.05"/>
<circle cx="394" cy="165.9" r="1.5" fill="#fff" stroke="#3a5790" stroke-width="1.05"/>
<circle cx="395" cy="161.7" r="1.5" fill="#fff" stroke="#3a5790" stroke-width="1.05"/>
<circle cx="396.6" cy="161.5" r="1.5" fill="#fff" stroke="#3a5790" stroke-width="1.05"/>
<circle cx="398.1" cy="161.9" r="1.5" fill="#fff" stroke="#3a5790" stroke-width="1.05"/>
<circle cx="400.2" cy="161.5" r="1.5" fill="#fff" stroke="#3a5790" stroke-width="1.05"/>
<circle cx="401.7" cy="161.2" r="1.5" fill="#fff" stroke="#3a5790" stroke-width="1.05"/>
<circle cx="403.3" cy="160.7" r="1.5" fill="#fff" stroke="#3a5790" stroke-width="1.05"/>
<circle cx="404.3" cy="159.2" r="1.5" fill="#fff" stroke="#3a5790" stroke-width="1.05"/>
<circle cx="405.9" cy="157.1" r="1.5" fill="#fff" stroke="#3a5790" stroke-width="1.05"/>
<circle cx="406.9" cy="155" r="1.5" fill="#fff" stroke="#3a5790" stroke-width="1.05"/>
<circle cx="408.5" cy="152.9" r="1.5" fill="#fff" stroke="#3a5790" stroke-width="1.05"/>
<circle cx="409.5" cy="151.9" r="1.5" fill="#fff" stroke="#3a5790" stroke-width="1.05"/>
<circle cx="410.2" cy="154.1" r="1.5" fill="#fff" stroke="#3a5790" stroke-width="1.05"/>
<circle cx="411.3" cy="155.8" r="1.5" fill="#fff" stroke="#3a5790" stroke-width="1.05"/>
<circle cx="412.1" cy="156.6" r="1.5" fill="#fff" stroke="#3a5790" stroke-width="1.05"/>
<circle cx="413.1" cy="162.4" r="1.5" fill="#fff" stroke="#3a5790" stroke-width="1.05"/>
<circle cx="414.7" cy="163" r="1.5" fill="#fff" stroke="#3a5790" stroke-width="1.05"/>
<circle cx="416.2" cy="162.7" r="1.5" fill="#fff" stroke="#3a5790" stroke-width="1.05"/>
<circle cx="417.8" cy="163" r="1.5" fill="#fff" stroke="#3a5790" stroke-width="1.05"/>
<circle cx="419.3" cy="163" r="1.5" fill="#fff" stroke="#3a5790" stroke-width="1.05"/>
<circle cx="420.9" cy="162.4" r="1.5" fill="#fff" stroke="#3a5790" stroke-width="1.05"/>
<circle cx="417.2" cy="165.5" r="1.5" fill="#fff" stroke="#3a5790" stroke-width="1.05"/>
<circle cx="421.9" cy="167.6" r="1.5" fill="#fff" stroke="#3a5790" stroke-width="1.05"/>
<circle cx="422.9" cy="168.1" r="1.5" fill="#fff" stroke="#3a5790" stroke-width="1.05"/>
<circle cx="425" cy="162.4" r="1.5" fill="#fff" stroke="#3a5790" stroke-width="1.05"/>
<circle cx="426.6" cy="159.3" r="1.5" fill="#fff" stroke="#3a5790" stroke-width="1.05"/>
<circle cx="428.1" cy="156.7" r="1.5" fill="#fff" stroke="#3a5790" stroke-width="1.05"/>
<circle cx="429.7" cy="155.2" r="1.5" fill="#fff" stroke="#3a5790" stroke-width="1.05"/>
<circle cx="430.7" cy="154.2" r="1.5" fill="#fff" stroke="#3a5790" stroke-width="1.05"/>
<circle cx="432.3" cy="153.1" r="1.5" fill="#fff" stroke="#3a5790" stroke-width="1.05"/>
<circle cx="433.8" cy="152.1" r="1.5" fill="#fff" stroke="#3a5790" stroke-width="1.05"/>
<circle cx="435.4" cy="156.2" r="1.5" fill="#fff" stroke="#3a5790" stroke-width="1.05"/>
<circle cx="435.9" cy="153.6" r="1.5" fill="#fff" stroke="#3a5790" stroke-width="1.05"/>
<circle cx="437.4" cy="151.6" r="1.5" fill="#fff" stroke="#3a5790" stroke-width="1.05"/>
<circle cx="439" cy="151" r="1.5" fill="#fff" stroke="#3a5790" stroke-width="1.05"/>
<circle cx="441.1" cy="152.6" r="1.5" fill="#fff" stroke="#3a5790" stroke-width="1.05"/>
<circle cx="442.6" cy="153.1" r="1.5" fill="#fff" stroke="#3a5790" stroke-width="1.05"/>
<circle cx="444.2" cy="153.1" r="1.5" fill="#fff" stroke="#3a5790" stroke-width="1.05"/>
<circle cx="445.7" cy="152.8" r="1.5" fill="#fff" stroke="#3a5790" stroke-width="1.05"/>
<circle cx="447.3" cy="152.6" r="1.5" fill="#fff" stroke="#3a5790" stroke-width="1.05"/>
<circle cx="448.8" cy="152.4" r="1.5" fill="#fff" stroke="#3a5790" stroke-width="1.05"/>
<circle cx="450.4" cy="152.6" r="1.5" fill="#fff" stroke="#3a5790" stroke-width="1.05"/>
<circle cx="451.4" cy="154.2" r="1.5" fill="#fff" stroke="#3a5790" stroke-width="1.05"/>
<circle cx="452.4" cy="155.7" r="1.5" fill="#fff" stroke="#3a5790" stroke-width="1.05"/>
<circle cx="453.5" cy="156.7" r="1.5" fill="#fff" stroke="#3a5790" stroke-width="1.05"/>
<circle cx="455" cy="150.5" r="1.5" fill="#fff" stroke="#3a5790" stroke-width="1.05"/>
<circle cx="455" cy="156.7" r="1.5" fill="#fff" stroke="#3a5790" stroke-width="1.05"/>
<circle cx="456.6" cy="155.7" r="1.5" fill="#fff" stroke="#3a5790" stroke-width="1.05"/>
<circle cx="457.4" cy="154.2" r="1.5" fill="#fff" stroke="#3a5790" stroke-width="1.05"/>
<circle cx="458.7" cy="156.5" r="1.5" fill="#fff" stroke="#3a5790" stroke-width="1.05"/>
<circle cx="459.7" cy="156.2" r="1.5" fill="#fff" stroke="#3a5790" stroke-width="1.05"/>
<circle cx="460.7" cy="157.3" r="1.5" fill="#fff" stroke="#3a5790" stroke-width="1.05"/>
<circle cx="461.7" cy="158.3" r="1.5" fill="#fff" stroke="#3a5790" stroke-width="1.05"/>
<circle cx="462.8" cy="159.3" r="1.5" fill="#fff" stroke="#3a5790" stroke-width="1.05"/>
<circle cx="464.3" cy="157.8" r="1.5" fill="#fff" stroke="#3a5790" stroke-width="1.05"/>
<circle cx="465.9" cy="159.3" r="1.5" fill="#fff" stroke="#3a5790" stroke-width="1.05"/>
<circle cx="467.4" cy="159.8" r="1.5" fill="#fff" stroke="#3a5790" stroke-width="1.05"/>
<circle cx="469" cy="160.9" r="1.5" fill="#fff" stroke="#3a5790" stroke-width="1.05"/>
<circle cx="470.5" cy="161.9" r="1.5" fill="#fff" stroke="#3a5790" stroke-width="1.05"/>
<circle cx="471.6" cy="163" r="1.5" fill="#fff" stroke="#3a5790" stroke-width="1.05"/>
<circle cx="473.1" cy="164" r="1.5" fill="#fff" stroke="#3a5790" stroke-width="1.05"/>
<circle cx="474.2" cy="165.5" r="1.5" fill="#fff" stroke="#3a5790" stroke-width="1.05"/>
<circle cx="475.7" cy="163" r="1.5" fill="#fff" stroke="#3a5790" stroke-width="1.05"/>
<circle cx="476.7" cy="165.5" r="1.5" fill="#fff" stroke="#3a5790" stroke-width="1.05"/>
<circle cx="478.3" cy="164.5" r="1.5" fill="#fff" stroke="#3a5790" stroke-width="1.05"/>
<circle cx="479.8" cy="164.5" r="1.5" fill="#fff" stroke="#3a5790" stroke-width="1.05"/>
<circle cx="481.4" cy="165" r="1.5" fill="#fff" stroke="#3a5790" stroke-width="1.05"/>
<circle cx="483" cy="165.5" r="1.5" fill="#fff" stroke="#3a5790" stroke-width="1.05"/>
<circle cx="484.5" cy="168.1" r="1.5" fill="#fff" stroke="#3a5790" stroke-width="1.05"/>
<circle cx="486.1" cy="169.2" r="1.5" fill="#fff" stroke="#3a5790" stroke-width="1.05"/>
<circle cx="487.6" cy="169.7" r="1.5" fill="#fff" stroke="#3a5790" stroke-width="1.05"/>
<circle cx="489.2" cy="170" r="1.5" fill="#fff" stroke="#3a5790" stroke-width="1.05"/>
<circle cx="490.7" cy="170.2" r="1.5" fill="#fff" stroke="#3a5790" stroke-width="1.05"/>
<circle cx="492.3" cy="170.7" r="1.5" fill="#fff" stroke="#3a5790" stroke-width="1.05"/>
<circle cx="493.8" cy="169.7" r="1.5" fill="#fff" stroke="#3a5790" stroke-width="1.05"/>
<circle cx="495.4" cy="168.6" r="1.5" fill="#fff" stroke="#3a5790" stroke-width="1.05"/>
<circle cx="496.9" cy="167.6" r="1.5" fill="#fff" stroke="#3a5790" stroke-width="1.05"/>
<circle cx="498.5" cy="167.1" r="1.5" fill="#fff" stroke="#3a5790" stroke-width="1.05"/>
<circle cx="500" cy="167.1" r="1.5" fill="#fff" stroke="#3a5790" stroke-width="1.05"/>
<circle cx="501.6" cy="167.3" r="1.5" fill="#fff" stroke="#3a5790" stroke-width="1.05"/>
<circle cx="83" cy="368.3" r="1.5" fill="#fff" stroke="#3a5790" stroke-width="1.05"/>
<circle cx="85.9" cy="368.3" r="1.5" fill="#fff" stroke="#3a5790" stroke-width="1.05"/>
<circle cx="87.5" cy="396.4" r="1.5" fill="#fff" stroke="#3a5790" stroke-width="1.05"/>
<circle cx="90.1" cy="396.4" r="1.5" fill="#fff" stroke="#3a5790" stroke-width="1.05"/>
<circle cx="91.8" cy="411.7" r="1.5" fill="#fff" stroke="#3a5790" stroke-width="1.05"/>
<circle cx="93" cy="409.2" r="1.5" fill="#fff" stroke="#3a5790" stroke-width="1.05"/>
<circle cx="94" cy="407.4" r="1.5" fill="#fff" stroke="#3a5790" stroke-width="1.05"/>
<circle cx="94.9" cy="404.9" r="1.5" fill="#fff" stroke="#3a5790" stroke-width="1.05"/>
<circle cx="96.5" cy="401.1" r="1.5" fill="#fff" stroke="#3a5790" stroke-width="1.05"/>
<circle cx="108.5" cy="394.7" r="2.9" fill="#2e4b84" stroke="#233e76" stroke-width="0.6"/>
<circle cx="97.4" cy="397.3" r="2.85" fill="#2e4b84" stroke="#233e76" stroke-width="0.6"/>
<circle cx="98.13" cy="395.53" r="2.85" fill="#2e4b84" stroke="#233e76" stroke-width="0.6"/>
<circle cx="98.87" cy="393.77" r="2.85" fill="#2e4b84" stroke="#233e76" stroke-width="0.6"/>
<circle cx="99.6" cy="392" r="2.85" fill="#2e4b84" stroke="#233e76" stroke-width="0.6"/>
<circle cx="100.57" cy="390.85" r="2.85" fill="#2e4b84" stroke="#233e76" stroke-width="0.6"/>
<circle cx="101.55" cy="389.7" r="2.85" fill="#2e4b84" stroke="#233e76" stroke-width="0.6"/>
<circle cx="102.53" cy="388.55" r="2.85" fill="#2e4b84" stroke="#233e76" stroke-width="0.6"/>
<circle cx="103.5" cy="387.4" r="2.85" fill="#2e4b84" stroke="#233e76" stroke-width="0.6"/>
<circle cx="104.77" cy="386.5" r="2.85" fill="#2e4b84" stroke="#233e76" stroke-width="0.6"/>
<circle cx="106.03" cy="385.6" r="2.85" fill="#2e4b84" stroke="#233e76" stroke-width="0.6"/>
<circle cx="107.3" cy="384.7" r="2.85" fill="#2e4b84" stroke="#233e76" stroke-width="0.6"/>
<circle cx="108.85" cy="383.55" r="2.85" fill="#2e4b84" stroke="#233e76" stroke-width="0.6"/>
<circle cx="110.4" cy="382.4" r="2.85" fill="#2e4b84" stroke="#233e76" stroke-width="0.6"/>
<circle cx="111.75" cy="381.8" r="2.85" fill="#2e4b84" stroke="#233e76" stroke-width="0.6"/>
<circle cx="113.1" cy="381.2" r="2.85" fill="#2e4b84" stroke="#233e76" stroke-width="0.6"/>
<circle cx="114.05" cy="382" r="2.85" fill="#2e4b84" stroke="#233e76" stroke-width="0.6"/>
<circle cx="115" cy="382.8" r="2.85" fill="#2e4b84" stroke="#233e76" stroke-width="0.6"/>
<circle cx="115.8" cy="392.4" r="2.85" fill="#2e4b84" stroke="#233e76" stroke-width="0.6"/>
<circle cx="116.3" cy="390.8" r="2.85" fill="#2e4b84" stroke="#233e76" stroke-width="0.6"/>
<circle cx="116.8" cy="389.2" r="2.85" fill="#2e4b84" stroke="#233e76" stroke-width="0.6"/>
<circle cx="117.3" cy="387.6" r="2.85" fill="#2e4b84" stroke="#233e76" stroke-width="0.6"/>
<circle cx="118.6" cy="387.27" r="2.85" fill="#2e4b84" stroke="#233e76" stroke-width="0.6"/>
<circle cx="119.9" cy="386.93" r="2.85" fill="#2e4b84" stroke="#233e76" stroke-width="0.6"/>
<circle cx="121.2" cy="386.6" r="2.85" fill="#2e4b84" stroke="#233e76" stroke-width="0.6"/>
<circle cx="122.9" cy="386.6" r="2.85" fill="#2e4b84" stroke="#233e76" stroke-width="0.6"/>
<circle cx="124.6" cy="386.6" r="2.85" fill="#2e4b84" stroke="#233e76" stroke-width="0.6"/>
<circle cx="126.2" cy="394.3" r="2.85" fill="#2e4b84" stroke="#233e76" stroke-width="0.6"/>
<circle cx="127.33" cy="393.53" r="2.85" fill="#2e4b84" stroke="#233e76" stroke-width="0.6"/>
<circle cx="128.47" cy="392.77" r="2.85" fill="#2e4b84" stroke="#233e76" stroke-width="0.6"/>
<circle cx="129.6" cy="392" r="2.85" fill="#2e4b84" stroke="#233e76" stroke-width="0.6"/>
<circle cx="131.15" cy="390.85" r="2.85" fill="#2e4b84" stroke="#233e76" stroke-width="0.6"/>
<circle cx="132.7" cy="389.7" r="2.85" fill="#2e4b84" stroke="#233e76" stroke-width="0.6"/>
<circle cx="133.33" cy="388.2" r="2.85" fill="#2e4b84" stroke="#233e76" stroke-width="0.6"/>
<circle cx="133.97" cy="386.7" r="2.85" fill="#2e4b84" stroke="#233e76" stroke-width="0.6"/>
<circle cx="134.6" cy="385.2" r="2.85" fill="#2e4b84" stroke="#233e76" stroke-width="0.6"/>
<circle cx="135.9" cy="384.9" r="2.85" fill="#2e4b84" stroke="#233e76" stroke-width="0.6"/>
<circle cx="137.2" cy="384.6" r="2.85" fill="#2e4b84" stroke="#233e76" stroke-width="0.6"/>
<circle cx="138.5" cy="384.3" r="2.85" fill="#2e4b84" stroke="#233e76" stroke-width="0.6"/>
<circle cx="139.2" cy="382.7" r="2.85" fill="#2e4b84" stroke="#233e76" stroke-width="0.6"/>
<circle cx="139.9" cy="381.1" r="2.85" fill="#2e4b84" stroke="#233e76" stroke-width="0.6"/>
<circle cx="140.6" cy="379.5" r="2.85" fill="#2e4b84" stroke="#233e76" stroke-width="0.6"/>
<circle cx="140.95" cy="377.88" r="2.85" fill="#2e4b84" stroke="#233e76" stroke-width="0.6"/>
<circle cx="141.3" cy="376.25" r="2.85" fill="#2e4b84" stroke="#233e76" stroke-width="0.6"/>
<circle cx="141.65" cy="374.62" r="2.85" fill="#2e4b84" stroke="#233e76" stroke-width="0.6"/>
<circle cx="142" cy="373" r="2.85" fill="#2e4b84" stroke="#233e76" stroke-width="0.6"/>
<circle cx="143.65" cy="372.7" r="2.85" fill="#2e4b84" stroke="#233e76" stroke-width="0.6"/>
<circle cx="145.3" cy="372.4" r="2.85" fill="#2e4b84" stroke="#233e76" stroke-width="0.6"/>
<circle cx="146.75" cy="372" r="2.85" fill="#2e4b84" stroke="#233e76" stroke-width="0.6"/>
<circle cx="148.2" cy="371.6" r="2.85" fill="#2e4b84" stroke="#233e76" stroke-width="0.6"/>
<circle cx="149.65" cy="370.75" r="2.85" fill="#2e4b84" stroke="#233e76" stroke-width="0.6"/>
<circle cx="151.1" cy="369.9" r="2.85" fill="#2e4b84" stroke="#233e76" stroke-width="0.6"/>
<circle cx="152.07" cy="368.93" r="2.85" fill="#2e4b84" stroke="#233e76" stroke-width="0.6"/>
<circle cx="153.03" cy="367.97" r="2.85" fill="#2e4b84" stroke="#233e76" stroke-width="0.6"/>
<circle cx="154" cy="367" r="2.85" fill="#2e4b84" stroke="#233e76" stroke-width="0.6"/>
<circle cx="154.18" cy="368.66" r="2.85" fill="#2e4b84" stroke="#233e76" stroke-width="0.6"/>
<circle cx="154.36" cy="370.32" r="2.85" fill="#2e4b84" stroke="#233e76" stroke-width="0.6"/>
<circle cx="154.54" cy="371.98" r="2.85" fill="#2e4b84" stroke="#233e76" stroke-width="0.6"/>
<circle cx="154.72" cy="373.64" r="2.85" fill="#2e4b84" stroke="#233e76" stroke-width="0.6"/>
<circle cx="154.9" cy="375.3" r="2.85" fill="#2e4b84" stroke="#233e76" stroke-width="0.6"/>
<circle cx="155.5" cy="376.85" r="2.85" fill="#2e4b84" stroke="#233e76" stroke-width="0.6"/>
<circle cx="156.1" cy="378.4" r="2.85" fill="#2e4b84" stroke="#233e76" stroke-width="0.6"/>
<circle cx="156.7" cy="379.95" r="2.85" fill="#2e4b84" stroke="#233e76" stroke-width="0.6"/>
<circle cx="157.3" cy="381.5" r="2.85" fill="#2e4b84" stroke="#233e76" stroke-width="0.6"/>
<circle cx="158.15" cy="380.25" r="2.85" fill="#2e4b84" stroke="#233e76" stroke-width="0.6"/>
<circle cx="159" cy="379" r="2.85" fill="#2e4b84" stroke="#233e76" stroke-width="0.6"/>
<circle cx="160.05" cy="377.35" r="2.85" fill="#2e4b84" stroke="#233e76" stroke-width="0.6"/>
<circle cx="161.1" cy="375.7" r="2.85" fill="#2e4b84" stroke="#233e76" stroke-width="0.6"/>
<circle cx="162.07" cy="374.73" r="2.85" fill="#2e4b84" stroke="#233e76" stroke-width="0.6"/>
<circle cx="163.03" cy="373.77" r="2.85" fill="#2e4b84" stroke="#233e76" stroke-width="0.6"/>
<circle cx="164" cy="372.8" r="2.85" fill="#2e4b84" stroke="#233e76" stroke-width="0.6"/>
<circle cx="165.25" cy="372.2" r="2.85" fill="#2e4b84" stroke="#233e76" stroke-width="0.6"/>
<circle cx="166.5" cy="371.6" r="2.85" fill="#2e4b84" stroke="#233e76" stroke-width="0.6"/>
<circle cx="167.7" cy="370.95" r="2.85" fill="#2e4b84" stroke="#233e76" stroke-width="0.6"/>
<circle cx="168.9" cy="370.3" r="2.85" fill="#2e4b84" stroke="#233e76" stroke-width="0.6"/>
<circle cx="170.5" cy="369.75" r="2.85" fill="#2e4b84" stroke="#233e76" stroke-width="0.6"/>
<circle cx="172.1" cy="369.2" r="2.85" fill="#2e4b84" stroke="#233e76" stroke-width="0.6"/>
<circle cx="173.9" cy="369.7" r="2.85" fill="#2e4b84" stroke="#233e76" stroke-width="0.6"/>
<circle cx="175.7" cy="370.2" r="2.85" fill="#2e4b84" stroke="#233e76" stroke-width="0.6"/>
<circle cx="176.03" cy="371.73" r="2.85" fill="#2e4b84" stroke="#233e76" stroke-width="0.6"/>
<circle cx="176.37" cy="373.27" r="2.85" fill="#2e4b84" stroke="#233e76" stroke-width="0.6"/>
<circle cx="176.7" cy="374.8" r="2.85" fill="#2e4b84" stroke="#233e76" stroke-width="0.6"/>
<circle cx="177.57" cy="373.43" r="2.85" fill="#2e4b84" stroke="#233e76" stroke-width="0.6"/>
<circle cx="178.43" cy="372.07" r="2.85" fill="#2e4b84" stroke="#233e76" stroke-width="0.6"/>
<circle cx="179.3" cy="370.7" r="2.85" fill="#2e4b84" stroke="#233e76" stroke-width="0.6"/>
<circle cx="180.85" cy="369.65" r="2.85" fill="#2e4b84" stroke="#233e76" stroke-width="0.6"/>
<circle cx="182.4" cy="368.6" r="2.85" fill="#2e4b84" stroke="#233e76" stroke-width="0.6"/>
<circle cx="183.45" cy="369.4" r="2.85" fill="#2e4b84" stroke="#233e76" stroke-width="0.6"/>
<circle cx="184.5" cy="370.2" r="2.85" fill="#2e4b84" stroke="#233e76" stroke-width="0.6"/>
<circle cx="184.83" cy="371.97" r="2.85" fill="#2e4b84" stroke="#233e76" stroke-width="0.6"/>
<circle cx="185.17" cy="373.73" r="2.85" fill="#2e4b84" stroke="#233e76" stroke-width="0.6"/>
<circle cx="185.5" cy="375.5" r="2.85" fill="#2e4b84" stroke="#233e76" stroke-width="0.6"/>
<circle cx="186.8" cy="375.45" r="2.85" fill="#2e4b84" stroke="#233e76" stroke-width="0.6"/>
<circle cx="188.1" cy="375.4" r="2.85" fill="#2e4b84" stroke="#233e76" stroke-width="0.6"/>
<circle cx="189.05" cy="376.45" r="2.85" fill="#2e4b84" stroke="#233e76" stroke-width="0.6"/>
<circle cx="190" cy="377.5" r="2.85" fill="#2e4b84" stroke="#233e76" stroke-width="0.6"/>
<circle cx="190.95" cy="378.75" r="2.85" fill="#2e4b84" stroke="#233e76" stroke-width="0.6"/>
<circle cx="191.9" cy="380" r="2.85" fill="#2e4b84" stroke="#233e76" stroke-width="0.6"/>
<circle cx="193.45" cy="380" r="2.85" fill="#2e4b84" stroke="#233e76" stroke-width="0.6"/>
<circle cx="195" cy="380" r="2.85" fill="#2e4b84" stroke="#233e76" stroke-width="0.6"/>
<circle cx="196.55" cy="379.05" r="2.85" fill="#2e4b84" stroke="#233e76" stroke-width="0.6"/>
<circle cx="198.1" cy="378.1" r="2.85" fill="#2e4b84" stroke="#233e76" stroke-width="0.6"/>
<circle cx="200" cy="387.5" r="2.85" fill="#2e4b84" stroke="#233e76" stroke-width="0.6"/>
<circle cx="201.47" cy="386.47" r="2.85" fill="#2e4b84" stroke="#233e76" stroke-width="0.6"/>
<circle cx="202.93" cy="385.43" r="2.85" fill="#2e4b84" stroke="#233e76" stroke-width="0.6"/>
<circle cx="204.4" cy="384.4" r="2.85" fill="#2e4b84" stroke="#233e76" stroke-width="0.6"/>
<circle cx="205.43" cy="386.07" r="2.85" fill="#2e4b84" stroke="#233e76" stroke-width="0.6"/>
<circle cx="206.47" cy="387.73" r="2.85" fill="#2e4b84" stroke="#233e76" stroke-width="0.6"/>
<circle cx="207.5" cy="389.4" r="2.85" fill="#2e4b84" stroke="#233e76" stroke-width="0.6"/>
<circle cx="209.05" cy="389.1" r="2.85" fill="#2e4b84" stroke="#233e76" stroke-width="0.6"/>
<circle cx="210.6" cy="388.8" r="2.85" fill="#2e4b84" stroke="#233e76" stroke-width="0.6"/>
<circle cx="211.87" cy="387.97" r="2.85" fill="#2e4b84" stroke="#233e76" stroke-width="0.6"/>
<circle cx="213.13" cy="387.13" r="2.85" fill="#2e4b84" stroke="#233e76" stroke-width="0.6"/>
<circle cx="214.4" cy="386.3" r="2.85" fill="#2e4b84" stroke="#233e76" stroke-width="0.6"/>
<circle cx="216.1" cy="387.2" r="2.85" fill="#2e4b84" stroke="#233e76" stroke-width="0.6"/>
<circle cx="216.7" cy="388.43" r="2.85" fill="#2e4b84" stroke="#233e76" stroke-width="0.6"/>
<circle cx="217.3" cy="389.67" r="2.85" fill="#2e4b84" stroke="#233e76" stroke-width="0.6"/>
<circle cx="217.9" cy="390.9" r="2.85" fill="#2e4b84" stroke="#233e76" stroke-width="0.6"/>
<circle cx="218.37" cy="392.47" r="2.85" fill="#2e4b84" stroke="#233e76" stroke-width="0.6"/>
<circle cx="218.83" cy="394.03" r="2.85" fill="#2e4b84" stroke="#233e76" stroke-width="0.6"/>
<circle cx="219.3" cy="395.6" r="2.85" fill="#2e4b84" stroke="#233e76" stroke-width="0.6"/>
<circle cx="220.75" cy="396.15" r="2.85" fill="#2e4b84" stroke="#233e76" stroke-width="0.6"/>
<circle cx="222.2" cy="396.7" r="2.85" fill="#2e4b84" stroke="#233e76" stroke-width="0.6"/>
<circle cx="223.65" cy="396.5" r="2.85" fill="#2e4b84" stroke="#233e76" stroke-width="0.6"/>
<circle cx="225.1" cy="396.3" r="2.85" fill="#2e4b84" stroke="#233e76" stroke-width="0.6"/>
<circle cx="226.4" cy="397.05" r="2.85" fill="#2e4b84" stroke="#233e76" stroke-width="0.6"/>
<circle cx="227.7" cy="397.8" r="2.85" fill="#2e4b84" stroke="#233e76" stroke-width="0.6"/>
<circle cx="228.6" cy="399.4" r="2.85" fill="#2e4b84" stroke="#233e76" stroke-width="0.6"/>
<circle cx="229.5" cy="401" r="2.85" fill="#2e4b84" stroke="#233e76" stroke-width="0.6"/>
<circle cx="230.2" cy="402.45" r="2.85" fill="#2e4b84" stroke="#233e76" stroke-width="0.6"/>
<circle cx="230.9" cy="403.9" r="2.85" fill="#2e4b84" stroke="#233e76" stroke-width="0.6"/>
<circle cx="232.35" cy="404.45" r="2.85" fill="#2e4b84" stroke="#233e76" stroke-width="0.6"/>
<circle cx="233.8" cy="405" r="2.85" fill="#2e4b84" stroke="#233e76" stroke-width="0.6"/>
<circle cx="235.25" cy="405.35" r="2.85" fill="#2e4b84" stroke="#233e76" stroke-width="0.6"/>
<circle cx="236.7" cy="405.7" r="2.85" fill="#2e4b84" stroke="#233e76" stroke-width="0.6"/>
<circle cx="238.35" cy="405.9" r="2.85" fill="#2e4b84" stroke="#233e76" stroke-width="0.6"/>
<circle cx="240" cy="406.1" r="2.85" fill="#2e4b84" stroke="#233e76" stroke-width="0.6"/>
<circle cx="349.6" cy="374" r="1.5" fill="#fff" stroke="#3a5790" stroke-width="1.05"/>
<circle cx="351.2" cy="374" r="1.5" fill="#fff" stroke="#3a5790" stroke-width="1.05"/>
<circle cx="352.4" cy="408.8" r="1.5" fill="#fff" stroke="#3a5790" stroke-width="1.05"/>
<circle cx="353.7" cy="393.5" r="1.5" fill="#fff" stroke="#3a5790" stroke-width="1.05"/>
<circle cx="355.1" cy="386.6" r="1.5" fill="#fff" stroke="#3a5790" stroke-width="1.05"/>
<circle cx="356.8" cy="378.7" r="1.5" fill="#fff" stroke="#3a5790" stroke-width="1.05"/>
<circle cx="358.3" cy="370.2" r="3.1" fill="#2e4b84" stroke="#233e76" stroke-width="0.6"/>
<circle cx="368.6" cy="378.6" r="3.2" fill="#2e4b84" stroke="#233e76" stroke-width="0.6"/>
<circle cx="401.1" cy="336.6" r="3.1" fill="#2e4b84" stroke="#233e76" stroke-width="0.6"/>
<circle cx="414.8" cy="307.5" r="3.1" fill="#2e4b84" stroke="#233e76" stroke-width="0.6"/>
<circle cx="477.6" cy="312.5" r="3.2" fill="#2e4b84" stroke="#233e76" stroke-width="0.6"/>
<circle cx="487.7" cy="342.7" r="3.1" fill="#2e4b84" stroke="#233e76" stroke-width="0.6"/>
<circle cx="360.1" cy="360.3" r="3.1" fill="#2e4b84" stroke="#233e76" stroke-width="0.6"/>
<circle cx="361.35" cy="360.3" r="3.1" fill="#2e4b84" stroke="#233e76" stroke-width="0.6"/>
<circle cx="362.6" cy="360.3" r="3.1" fill="#2e4b84" stroke="#233e76" stroke-width="0.6"/>
<circle cx="364.8" cy="353.5" r="3.1" fill="#2e4b84" stroke="#233e76" stroke-width="0.6"/>
<circle cx="365.8" cy="353.6" r="3.1" fill="#2e4b84" stroke="#233e76" stroke-width="0.6"/>
<circle cx="366.8" cy="353.7" r="3.1" fill="#2e4b84" stroke="#233e76" stroke-width="0.6"/>
<circle cx="370.8" cy="370.9" r="3.1" fill="#2e4b84" stroke="#233e76" stroke-width="0.6"/>
<circle cx="371.52" cy="369.55" r="3.1" fill="#2e4b84" stroke="#233e76" stroke-width="0.6"/>
<circle cx="372.25" cy="368.2" r="3.1" fill="#2e4b84" stroke="#233e76" stroke-width="0.6"/>
<circle cx="372.98" cy="366.85" r="3.1" fill="#2e4b84" stroke="#233e76" stroke-width="0.6"/>
<circle cx="373.7" cy="365.5" r="3.1" fill="#2e4b84" stroke="#233e76" stroke-width="0.6"/>
<circle cx="375.55" cy="366.25" r="3.1" fill="#2e4b84" stroke="#233e76" stroke-width="0.6"/>
<circle cx="377.4" cy="367" r="3.1" fill="#2e4b84" stroke="#233e76" stroke-width="0.6"/>
<circle cx="379.25" cy="367.1" r="3.1" fill="#2e4b84" stroke="#233e76" stroke-width="0.6"/>
<circle cx="381.1" cy="367.2" r="3.1" fill="#2e4b84" stroke="#233e76" stroke-width="0.6"/>
<circle cx="382.37" cy="366.53" r="3.1" fill="#2e4b84" stroke="#233e76" stroke-width="0.6"/>
<circle cx="383.63" cy="365.87" r="3.1" fill="#2e4b84" stroke="#233e76" stroke-width="0.6"/>
<circle cx="384.9" cy="365.2" r="3.1" fill="#2e4b84" stroke="#233e76" stroke-width="0.6"/>
<circle cx="385.87" cy="364.27" r="3.1" fill="#2e4b84" stroke="#233e76" stroke-width="0.6"/>
<circle cx="386.83" cy="363.33" r="3.1" fill="#2e4b84" stroke="#233e76" stroke-width="0.6"/>
<circle cx="387.8" cy="362.4" r="3.1" fill="#2e4b84" stroke="#233e76" stroke-width="0.6"/>
<circle cx="388.3" cy="361.1" r="3.1" fill="#2e4b84" stroke="#233e76" stroke-width="0.6"/>
<circle cx="388.8" cy="359.8" r="3.1" fill="#2e4b84" stroke="#233e76" stroke-width="0.6"/>
<circle cx="389.3" cy="358.5" r="3.1" fill="#2e4b84" stroke="#233e76" stroke-width="0.6"/>
<circle cx="390.15" cy="356.75" r="3.1" fill="#2e4b84" stroke="#233e76" stroke-width="0.6"/>
<circle cx="391" cy="355" r="3.1" fill="#2e4b84" stroke="#233e76" stroke-width="0.6"/>
<circle cx="392.15" cy="353.5" r="3.1" fill="#2e4b84" stroke="#233e76" stroke-width="0.6"/>
<circle cx="393.3" cy="352" r="3.1" fill="#2e4b84" stroke="#233e76" stroke-width="0.6"/>
<circle cx="396.2" cy="344.1" r="3.1" fill="#2e4b84" stroke="#233e76" stroke-width="0.6"/>
<circle cx="398.05" cy="344.7" r="3.1" fill="#2e4b84" stroke="#233e76" stroke-width="0.6"/>
<circle cx="399.9" cy="345.3" r="3.1" fill="#2e4b84" stroke="#233e76" stroke-width="0.6"/>
<circle cx="403" cy="323.6" r="3.1" fill="#2e4b84" stroke="#233e76" stroke-width="0.6"/>
<circle cx="404.85" cy="323.9" r="3.1" fill="#2e4b84" stroke="#233e76" stroke-width="0.6"/>
<circle cx="406.7" cy="324.2" r="3.1" fill="#2e4b84" stroke="#233e76" stroke-width="0.6"/>
<circle cx="407.33" cy="322.97" r="3.1" fill="#2e4b84" stroke="#233e76" stroke-width="0.6"/>
<circle cx="407.97" cy="321.73" r="3.1" fill="#2e4b84" stroke="#233e76" stroke-width="0.6"/>
<circle cx="408.6" cy="320.5" r="3.1" fill="#2e4b84" stroke="#233e76" stroke-width="0.6"/>
<circle cx="409.85" cy="319.9" r="3.1" fill="#2e4b84" stroke="#233e76" stroke-width="0.6"/>
<circle cx="411.1" cy="319.3" r="3.1" fill="#2e4b84" stroke="#233e76" stroke-width="0.6"/>
<circle cx="411.93" cy="317.83" r="3.1" fill="#2e4b84" stroke="#233e76" stroke-width="0.6"/>
<circle cx="412.77" cy="316.37" r="3.1" fill="#2e4b84" stroke="#233e76" stroke-width="0.6"/>
<circle cx="413.6" cy="314.9" r="3.1" fill="#2e4b84" stroke="#233e76" stroke-width="0.6"/>
<circle cx="416.4" cy="338.5" r="3.1" fill="#2e4b84" stroke="#233e76" stroke-width="0.6"/>
<circle cx="417.1" cy="337.33" r="3.1" fill="#2e4b84" stroke="#233e76" stroke-width="0.6"/>
<circle cx="417.8" cy="336.17" r="3.1" fill="#2e4b84" stroke="#233e76" stroke-width="0.6"/>
<circle cx="418.5" cy="335" r="3.1" fill="#2e4b84" stroke="#233e76" stroke-width="0.6"/>
<circle cx="419.85" cy="334.55" r="3.1" fill="#2e4b84" stroke="#233e76" stroke-width="0.6"/>
<circle cx="421.2" cy="334.1" r="3.1" fill="#2e4b84" stroke="#233e76" stroke-width="0.6"/>
<circle cx="423.7" cy="326.6" r="3.1" fill="#2e4b84" stroke="#233e76" stroke-width="0.6"/>
<circle cx="424.53" cy="325.37" r="3.1" fill="#2e4b84" stroke="#233e76" stroke-width="0.6"/>
<circle cx="425.37" cy="324.13" r="3.1" fill="#2e4b84" stroke="#233e76" stroke-width="0.6"/>
<circle cx="426.2" cy="322.9" r="3.1" fill="#2e4b84" stroke="#233e76" stroke-width="0.6"/>
<circle cx="427.43" cy="321.87" r="3.1" fill="#2e4b84" stroke="#233e76" stroke-width="0.6"/>
<circle cx="428.67" cy="320.83" r="3.1" fill="#2e4b84" stroke="#233e76" stroke-width="0.6"/>
<circle cx="429.9" cy="319.8" r="3.1" fill="#2e4b84" stroke="#233e76" stroke-width="0.6"/>
<circle cx="431.13" cy="318.57" r="3.1" fill="#2e4b84" stroke="#233e76" stroke-width="0.6"/>
<circle cx="432.37" cy="317.33" r="3.1" fill="#2e4b84" stroke="#233e76" stroke-width="0.6"/>
<circle cx="433.6" cy="316.1" r="3.1" fill="#2e4b84" stroke="#233e76" stroke-width="0.6"/>
<circle cx="435.07" cy="315.27" r="3.1" fill="#2e4b84" stroke="#233e76" stroke-width="0.6"/>
<circle cx="436.53" cy="314.43" r="3.1" fill="#2e4b84" stroke="#233e76" stroke-width="0.6"/>
<circle cx="438" cy="313.6" r="3.1" fill="#2e4b84" stroke="#233e76" stroke-width="0.6"/>
<circle cx="438.83" cy="311.93" r="3.1" fill="#2e4b84" stroke="#233e76" stroke-width="0.6"/>
<circle cx="439.67" cy="310.27" r="3.1" fill="#2e4b84" stroke="#233e76" stroke-width="0.6"/>
<circle cx="440.5" cy="308.6" r="3.1" fill="#2e4b84" stroke="#233e76" stroke-width="0.6"/>
<circle cx="442.35" cy="308" r="3.1" fill="#2e4b84" stroke="#233e76" stroke-width="0.6"/>
<circle cx="444.2" cy="307.4" r="3.1" fill="#2e4b84" stroke="#233e76" stroke-width="0.6"/>
<circle cx="445.43" cy="306.57" r="3.1" fill="#2e4b84" stroke="#233e76" stroke-width="0.6"/>
<circle cx="446.67" cy="305.73" r="3.1" fill="#2e4b84" stroke="#233e76" stroke-width="0.6"/>
<circle cx="447.9" cy="304.9" r="3.1" fill="#2e4b84" stroke="#233e76" stroke-width="0.6"/>
<circle cx="449.37" cy="304.7" r="3.1" fill="#2e4b84" stroke="#233e76" stroke-width="0.6"/>
<circle cx="450.83" cy="304.5" r="3.1" fill="#2e4b84" stroke="#233e76" stroke-width="0.6"/>
<circle cx="452.3" cy="304.3" r="3.1" fill="#2e4b84" stroke="#233e76" stroke-width="0.6"/>
<circle cx="453.15" cy="303.75" r="3.1" fill="#2e4b84" stroke="#233e76" stroke-width="0.6"/>
<circle cx="454" cy="303.2" r="3.1" fill="#2e4b84" stroke="#233e76" stroke-width="0.6"/>
<circle cx="455" cy="302.15" r="3.1" fill="#2e4b84" stroke="#233e76" stroke-width="0.6"/>
<circle cx="456" cy="301.1" r="3.1" fill="#2e4b84" stroke="#233e76" stroke-width="0.6"/>
<circle cx="456.85" cy="299.8" r="3.1" fill="#2e4b84" stroke="#233e76" stroke-width="0.6"/>
<circle cx="457.7" cy="298.5" r="3.1" fill="#2e4b84" stroke="#233e76" stroke-width="0.6"/>
<circle cx="459.2" cy="297.95" r="3.1" fill="#2e4b84" stroke="#233e76" stroke-width="0.6"/>
<circle cx="460.7" cy="297.4" r="3.1" fill="#2e4b84" stroke="#233e76" stroke-width="0.6"/>
<circle cx="462.25" cy="297.15" r="3.1" fill="#2e4b84" stroke="#233e76" stroke-width="0.6"/>
<circle cx="463.8" cy="296.9" r="3.1" fill="#2e4b84" stroke="#233e76" stroke-width="0.6"/>
<circle cx="465.2" cy="289.2" r="3.2" fill="#2e4b84" stroke="#233e76" stroke-width="0.6"/>
<circle cx="465.77" cy="287.97" r="3.2" fill="#2e4b84" stroke="#233e76" stroke-width="0.6"/>
<circle cx="466.33" cy="286.73" r="3.2" fill="#2e4b84" stroke="#233e76" stroke-width="0.6"/>
<circle cx="466.9" cy="285.5" r="3.2" fill="#2e4b84" stroke="#233e76" stroke-width="0.6"/>
<circle cx="467.37" cy="284.2" r="3.2" fill="#2e4b84" stroke="#233e76" stroke-width="0.6"/>
<circle cx="467.83" cy="282.9" r="3.2" fill="#2e4b84" stroke="#233e76" stroke-width="0.6"/>
<circle cx="468.3" cy="281.6" r="3.2" fill="#2e4b84" stroke="#233e76" stroke-width="0.6"/>
<circle cx="470" cy="281.6" r="3.2" fill="#2e4b84" stroke="#233e76" stroke-width="0.6"/>
<circle cx="471.7" cy="281.6" r="3.2" fill="#2e4b84" stroke="#233e76" stroke-width="0.6"/>
<circle cx="473.6" cy="281.2" r="3.2" fill="#2e4b84" stroke="#233e76" stroke-width="0.6"/>
<circle cx="475.5" cy="280.8" r="3.2" fill="#2e4b84" stroke="#233e76" stroke-width="0.6"/>
<circle cx="480.4" cy="333" r="3.1" fill="#2e4b84" stroke="#233e76" stroke-width="0.6"/>
<circle cx="481.17" cy="331.87" r="3.1" fill="#2e4b84" stroke="#233e76" stroke-width="0.6"/>
<circle cx="481.93" cy="330.73" r="3.1" fill="#2e4b84" stroke="#233e76" stroke-width="0.6"/>
<circle cx="482.7" cy="329.6" r="3.1" fill="#2e4b84" stroke="#233e76" stroke-width="0.6"/>
<circle cx="483.43" cy="328.47" r="3.1" fill="#2e4b84" stroke="#233e76" stroke-width="0.6"/>
<circle cx="484.17" cy="327.33" r="3.1" fill="#2e4b84" stroke="#233e76" stroke-width="0.6"/>
<circle cx="484.9" cy="326.2" r="3.1" fill="#2e4b84" stroke="#233e76" stroke-width="0.6"/>
<circle cx="490.5" cy="354.9" r="3.1" fill="#2e4b84" stroke="#233e76" stroke-width="0.6"/>
<circle cx="492.48" cy="354.9" r="3.1" fill="#2e4b84" stroke="#233e76" stroke-width="0.6"/>
<circle cx="494.46" cy="354.9" r="3.1" fill="#2e4b84" stroke="#233e76" stroke-width="0.6"/>
<circle cx="496.44" cy="354.9" r="3.1" fill="#2e4b84" stroke="#233e76" stroke-width="0.6"/>
<circle cx="498.42" cy="354.9" r="3.1" fill="#2e4b84" stroke="#233e76" stroke-width="0.6"/>
<circle cx="500.4" cy="354.9" r="3.1" fill="#2e4b84" stroke="#233e76" stroke-width="0.6"/>
<rect x="0" y="0" width="1.2" height="483" fill="#000"/>
<rect x="0" y="0" width="520" height="1.2" fill="#000"/>
<rect x="518.2" y="0" width="1.8" height="483" fill="#000"/>
<rect x="0" y="481.2" width="520" height="1.8" fill="#000"/>
</svg>
</body></html>
